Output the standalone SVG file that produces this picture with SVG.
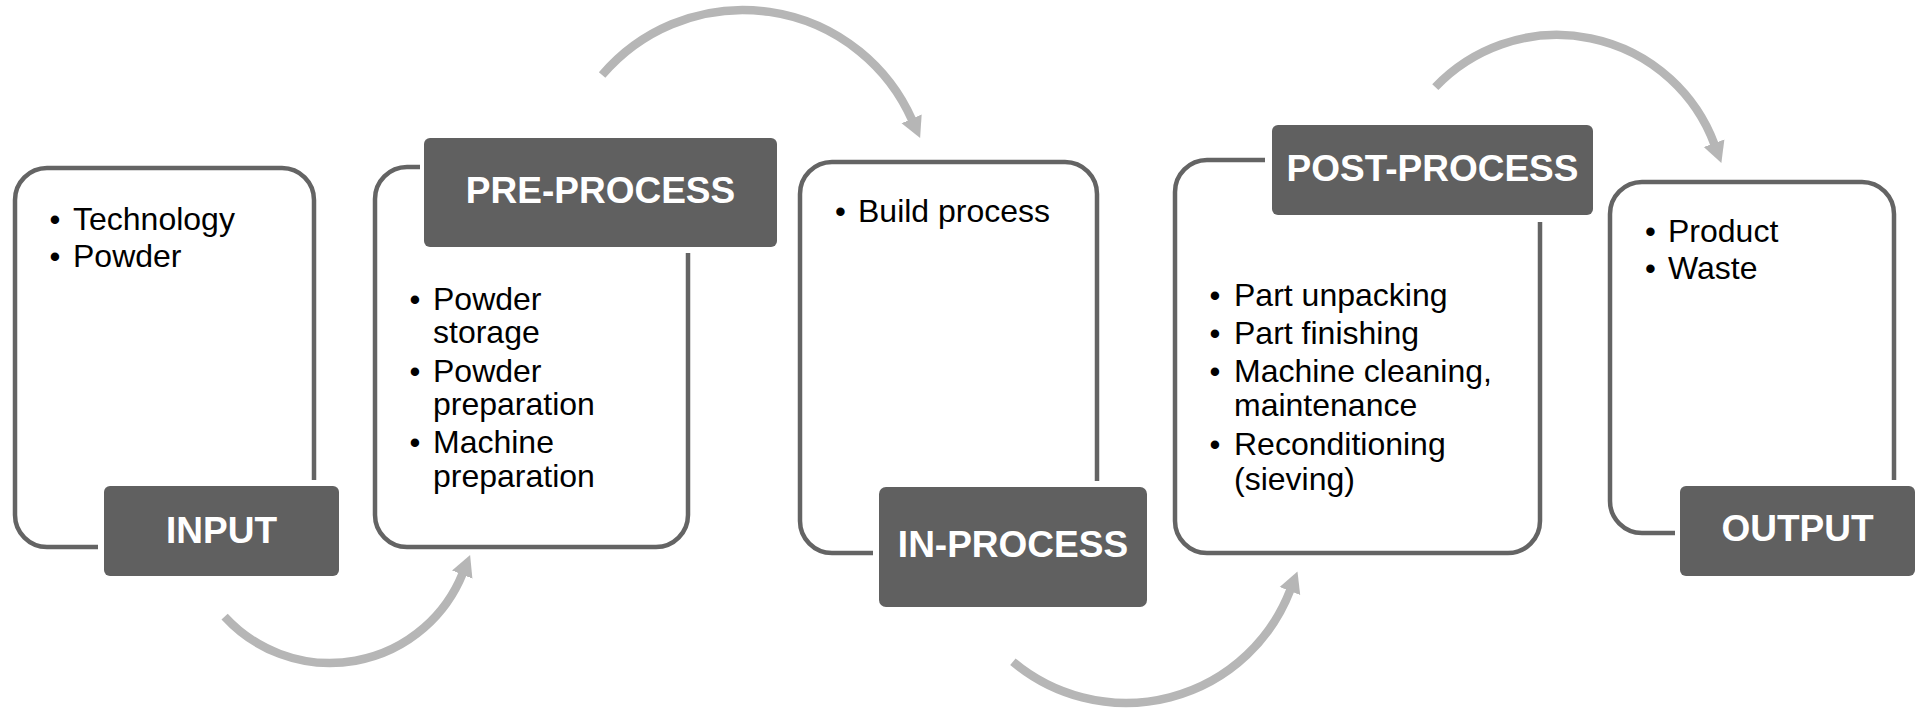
<svg xmlns="http://www.w3.org/2000/svg" width="1917" height="709" viewBox="0 0 1917 709">
<style>
.card{fill:none;stroke:#646464;stroke-width:4.5;stroke-linecap:butt}
.lab{fill:#606060}
.lt{font-family:"Liberation Sans",Arial,sans-serif;font-weight:bold;font-size:37px;fill:#ffffff;text-anchor:middle}
.bt{font-family:"Liberation Sans",Arial,sans-serif;font-size:32px;fill:#000000}
.bd{font-family:"Liberation Sans",Arial,sans-serif;font-size:31px;fill:#000000;text-anchor:middle}
.arc{fill:none;stroke:#b6b6b6;stroke-width:8.5}
</style>
<defs>
<marker id="ah" viewBox="0 -12 22 24" markerWidth="22" markerHeight="24" refX="1" refY="0" orient="auto" markerUnits="userSpaceOnUse">
<path d="M0,-11 L21,0 L0,11 z" fill="#b6b6b6"/>
</marker>
</defs>
<rect width="1917" height="709" fill="#ffffff"/>

<g id="connectors">
<path class="arc" d="M224.6,616.6 A143,143 0 0 0 462.6,573.6" marker-end="url(#ah)"/>
<path class="arc" d="M602.1,75.1 A185,185 0 0 1 912,119.8" marker-end="url(#ah)"/>
<path class="arc" d="M1012.9,661.8 A176,176 0 0 0 1290.3,590.1" marker-end="url(#ah)"/>
<path class="arc" d="M1435.3,87.1 A168,168 0 0 1 1714.4,144.2" marker-end="url(#ah)"/>
</g>

<g id="input">
<path class="card" d="M314,480 L314,200 A32,32 0 0 0 282,168 L47,168 A32,32 0 0 0 15,200 L15,515 A32,32 0 0 0 47,547 L98,547"/>
<rect class="lab" x="104" y="486" width="235" height="90" rx="6"/>
<text class="lt" x="221.5" y="543">INPUT</text>
<text class="bd" x="55" y="230">•</text><text class="bt" x="73" y="230">Technology</text>
<text class="bd" x="55" y="267">•</text><text class="bt" x="73" y="267">Powder</text>
</g>

<g id="pre-process">
<path class="card" d="M420,167 L407,167 A32,32 0 0 0 375,199 L375,515 A32,32 0 0 0 407,547 L656,547 A32,32 0 0 0 688,515 L688,253"/>
<rect class="lab" x="424" y="138" width="353" height="109" rx="6"/>
<text class="lt" x="600.5" y="203">PRE-PROCESS</text>
<text class="bd" x="415" y="310">•</text><text class="bt" x="433" y="310">Powder</text>
<text class="bt" x="433" y="343">storage</text>
<text class="bd" x="415" y="381.5">•</text><text class="bt" x="433" y="381.5">Powder</text>
<text class="bt" x="433" y="415">preparation</text>
<text class="bd" x="415" y="453">•</text><text class="bt" x="433" y="453">Machine</text>
<text class="bt" x="433" y="487">preparation</text>
</g>

<g id="in-process">
<path class="card" d="M1097,481 L1097,194 A32,32 0 0 0 1065,162 L832,162 A32,32 0 0 0 800,194 L800,521 A32,32 0 0 0 832,553 L873,553"/>
<rect class="lab" x="879" y="487" width="268" height="120" rx="7"/>
<text class="lt" x="1013" y="557">IN-PROCESS</text>
<text class="bd" x="840.5" y="222">•</text><text class="bt" x="858" y="222">Build process</text>
</g>

<g id="post-process">
<path class="card" d="M1265,160 L1207,160 A32,32 0 0 0 1175,192 L1175,521 A32,32 0 0 0 1207,553 L1508,553 A32,32 0 0 0 1540,521 L1540,222"/>
<rect class="lab" x="1272" y="125" width="321" height="90" rx="6"/>
<text class="lt" x="1432.5" y="181">POST-PROCESS</text>
<text class="bd" x="1215" y="306">•</text><text class="bt" x="1234" y="306">Part unpacking</text>
<text class="bd" x="1215" y="343.5">•</text><text class="bt" x="1234" y="343.5">Part finishing</text>
<text class="bd" x="1215" y="382">•</text><text class="bt" x="1234" y="382">Machine cleaning,</text>
<text class="bt" x="1234" y="416">maintenance</text>
<text class="bd" x="1215" y="455">•</text><text class="bt" x="1234" y="455">Reconditioning</text>
<text class="bt" x="1234" y="489.5">(sieving)</text>
</g>

<g id="output">
<path class="card" d="M1894,480 L1894,214 A32,32 0 0 0 1862,182 L1642,182 A32,32 0 0 0 1610,214 L1610,501 A32,32 0 0 0 1642,533 L1675,533"/>
<rect class="lab" x="1680" y="486" width="235" height="90" rx="6"/>
<text class="lt" x="1797.5" y="541">OUTPUT</text>
<text class="bd" x="1650.5" y="242">•</text><text class="bt" x="1668" y="242">Product</text>
<text class="bd" x="1650.5" y="279">•</text><text class="bt" x="1668" y="279">Waste</text>
</g>
</svg>
